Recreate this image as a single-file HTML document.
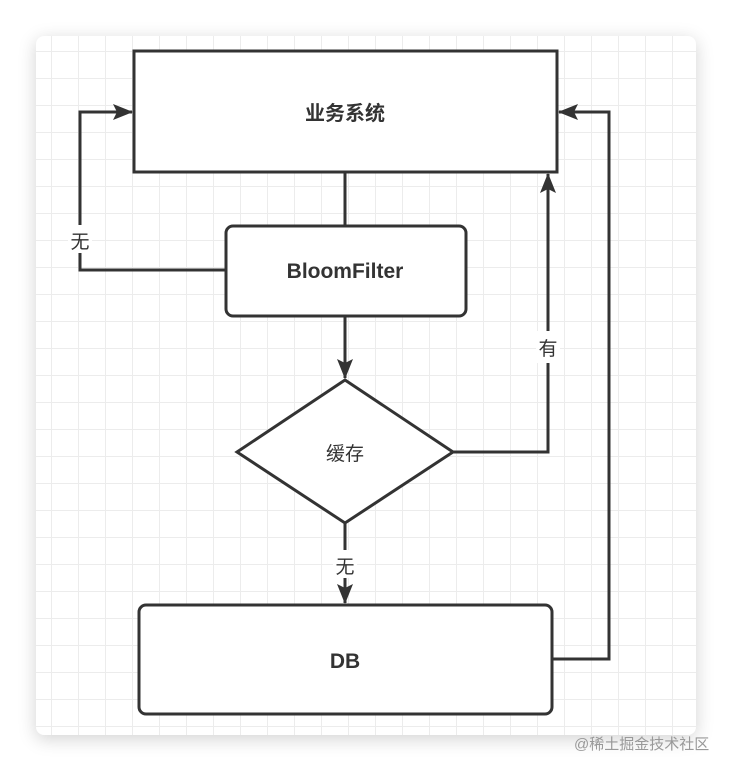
<!DOCTYPE html>
<html><head><meta charset="utf-8"><style>
html,body{margin:0;padding:0;background:#fff;}
body{width:732px;height:772px;position:relative;overflow:hidden;font-family:"Liberation Sans","Noto Sans CJK SC",sans-serif;}
.card{position:absolute;left:36px;top:36px;width:660px;height:699px;border-radius:8px;background-color:#fff;
background-image:linear-gradient(#ececec 1px,transparent 1px),linear-gradient(90deg,#ececec 1px,transparent 1px);
background-size:27px 27px;background-position:-12px -12px;box-shadow:0 4px 18px rgba(0,0,0,0.18);}
.wm{position:absolute;left:574px;top:733px;font-size:15px;color:#999;}
</style></head><body>
<div class="card"></div>
<svg width="732" height="772" style="position:absolute;left:0;top:0">
<defs><marker id="a" markerWidth="8" markerHeight="8" refX="7" refY="4" orient="auto" markerUnits="userSpaceOnUse" viewBox="0 0 8 8"><path d="M0,0 L8,4 L0,8 Z" fill="#333"/></marker>
<marker id="b" markerWidth="20" markerHeight="16" refX="19" refY="8" orient="auto" markerUnits="userSpaceOnUse"><path d="M0,0 L20,8 L0,16 L4,8 Z" fill="#333"/></marker></defs>
<g stroke="#333" stroke-width="3" fill="none">
<rect x="134" y="51" width="423" height="121" fill="#fff"/>
<rect x="226" y="226" width="240" height="90" rx="7" fill="#fff"/>
<polygon points="345,380 453,452 345,523 237,452" fill="#fff"/>
<rect x="139" y="605" width="413" height="109" rx="7" fill="#fff"/>
<line x1="345" y1="172" x2="345" y2="226"/>
<polyline points="226,270 80,270 80,112 132,112" marker-end="url(#b)"/>
<line x1="345" y1="316" x2="345" y2="378" marker-end="url(#b)"/>
<polyline points="453,452 548,452 548,174" marker-end="url(#b)"/>
<line x1="345" y1="523" x2="345" y2="603" marker-end="url(#b)"/>
<polyline points="552,659 609,659 609,112 559,112" marker-end="url(#b)"/>
</g>
<rect x="68" y="225" width="24" height="28" fill="#fff"/>
<rect x="536" y="331" width="24" height="32" fill="#fff"/>
<rect x="333" y="550" width="24" height="28" fill="#fff"/>
<g font-family="Liberation Sans,Noto Sans CJK SC,sans-serif" fill="#333" text-anchor="middle">
<text x="345" y="120" font-size="20" font-weight="bold">业务系统</text>
<text x="345" y="278" font-size="21" font-weight="bold">BloomFilter</text>
<text x="345" y="460" font-size="19">缓存</text>
<text x="345" y="668" font-size="21" font-weight="bold">DB</text>
<text x="80" y="248" font-size="19">无</text>
<text x="548" y="355" font-size="19">有</text>
<text x="345" y="573" font-size="19">无</text>
</g>
</svg>
<div class="wm">@稀土掘金技术社区</div>
</body></html>
